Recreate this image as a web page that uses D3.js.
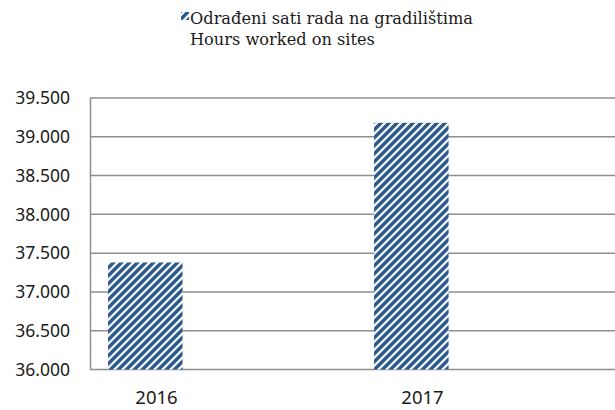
<!DOCTYPE html>
<html>
<head>
<meta charset="utf-8">
<script src="https://cdn.jsdelivr.net/npm/d3@7"></script>
<style>
  body { margin: 0; background: #fff; }
  svg { display: block; }
</style>
</head>
<body>
<div id="chart"></div>
<script>
// data
var years = ["2016", "2017"];
var hours = [37380, 39180];
var yTicks = [36000, 36500, 37000, 37500, 38000, 38500, 39000, 39500];
var legendLines = ["Odrađeni sati rada na gradilištima", "Hours worked on sites"];

var width = 615, height = 410;
var stripe = "#2c5a8e";

var svg = d3.select("#chart")
  .append("svg")
  .attr("width", width)
  .attr("height", height);

// upward diagonal hatch
var defs = svg.append("defs");
var pat = defs.append("pattern")
  .attr("id", "hatch")
  .attr("patternUnits", "userSpaceOnUse")
  .attr("width", 8)
  .attr("height", 8);
pat.append("rect").attr("width", 8).attr("height", 8).attr("fill", "#fff");
pat.append("path")
  .attr("d", "M-2,2 l4,-4 M0,8 l8,-8 M6,10 l4,-4")
  .attr("stroke", stripe)
  .attr("stroke-width", 3.4);

var locale = d3.formatLocale({ decimal: ",", thousands: ".", grouping: [3], currency: ["", ""] });
var fmt = locale.format(",.0f");

var y = d3.scaleLinear().domain([36000, 39500]).range([369.5, 98]);
var x = d3.scaleBand().domain(years).range([90, 622]);

// gridlines
svg.append("g")
  .selectAll("line")
  .data(yTicks)
  .enter().append("line")
  .attr("x1", 90)
  .attr("x2", width)
  .attr("y1", function(d) { return y(d); })
  .attr("y2", function(d) { return y(d); })
  .attr("stroke", "#8f8f8f")
  .attr("stroke-width", 1.5);

// left axis line
svg.append("line")
  .attr("x1", 90.5).attr("x2", 90.5)
  .attr("y1", y(39500)).attr("y2", y(36000))
  .attr("stroke", "#8f8f8f")
  .attr("stroke-width", 1.5);

// y labels
svg.append("g")
  .selectAll("text")
  .data(yTicks)
  .enter().append("text")
  .attr("x", 70)
  .attr("y", function(d) { return y(d); })
  .attr("dy", "0.36em")
  .attr("text-anchor", "end")
  .style("font-family", "'Noto Sans', sans-serif")
  .style("font-size", "17.5px")
  .style("fill", "#1a1a1a")
  .text(function(d) { return fmt(d); });

// bars
var step = x.step();
svg.append("g")
  .selectAll("rect")
  .data(years)
  .enter().append("rect")
  .attr("x", function(d) { return x(d) + step * 0.068; })
  .attr("width", step * 0.28)
  .attr("y", function(d, i) { return y(hours[i]); })
  .attr("height", function(d, i) { return y(36000) - y(hours[i]); })
  .attr("fill", "url(#hatch)");

// x labels
svg.append("g")
  .selectAll("text")
  .data(years)
  .enter().append("text")
  .attr("x", function(d) { return x(d) + step * 0.25; })
  .attr("y", 404)
  .attr("text-anchor", "middle")
  .style("font-family", "'Noto Sans', sans-serif")
  .style("font-size", "18.5px")
  .style("fill", "#1a1a1a")
  .text(function(d) { return d; });

// legend
svg.append("rect")
  .attr("x", 181).attr("y", 12)
  .attr("width", 8).attr("height", 8)
  .attr("fill", "url(#hatch)");

svg.append("g")
  .selectAll("text")
  .data(legendLines)
  .enter().append("text")
  .attr("x", 190)
  .attr("y", function(d, i) { return 24 + i * 21; })
  .style("font-family", "'DejaVu Serif', serif")
  .style("font-size", "16.2px")
  .style("fill", "#1a1a1a")
  .text(function(d) { return d; });
</script>
</body>
</html>
